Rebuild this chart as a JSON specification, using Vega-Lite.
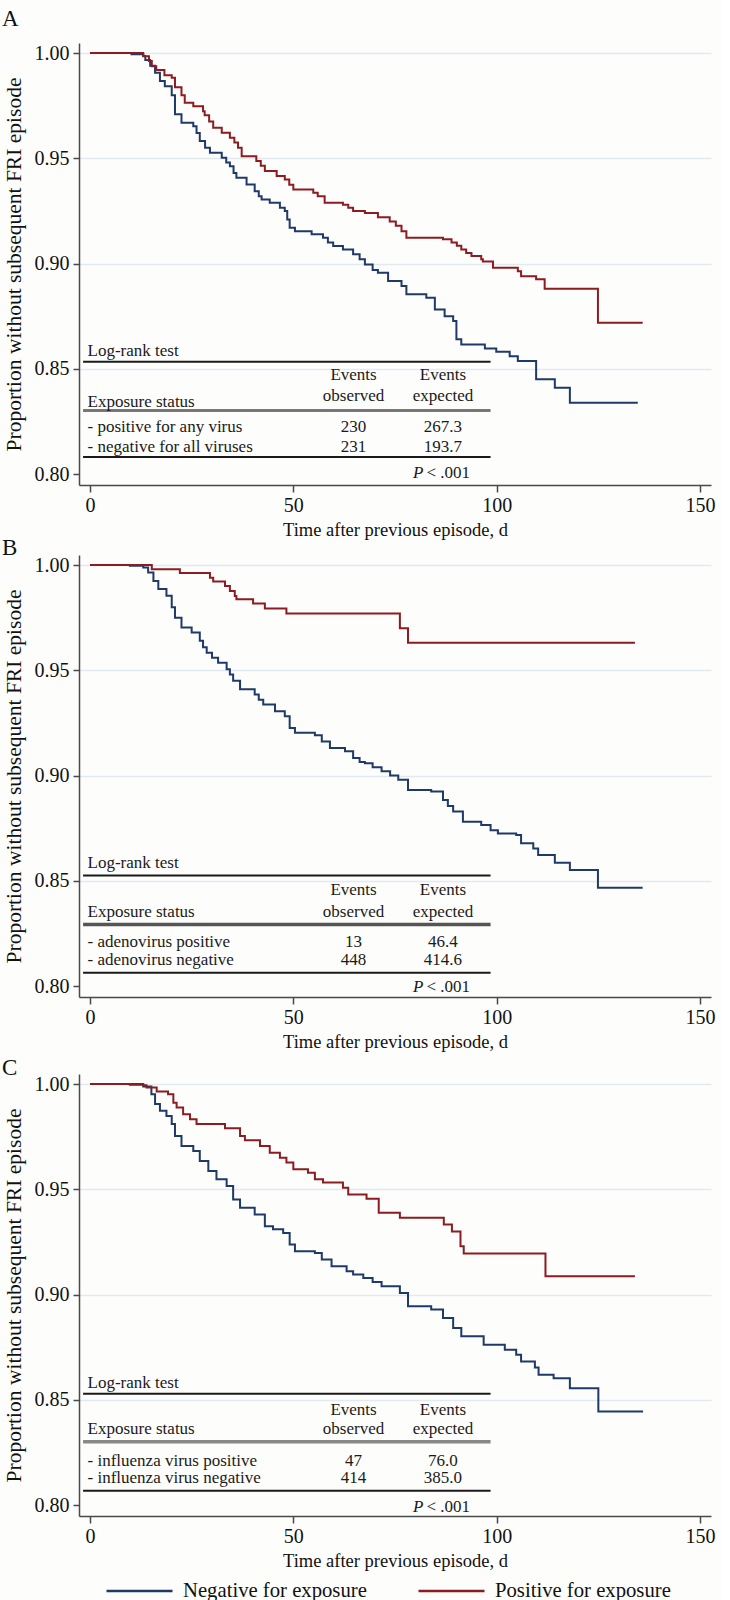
{
  "$schema": "https://vega.github.io/schema/vega-lite/v6.json",
  "background": "#fdfdfb",
  "padding": {"left": 2, "top": 8, "right": 5, "bottom": 2},
  "bounds": "flush",
  "spacing": 70,
  "resolve": {"scale": {"color": "shared"}, "legend": {"color": "shared"}},
  "config": {
    "font": "Liberation Serif",
    "view": {"stroke": null},
    "axis": {"domainColor": "#4a4a4a", "domainWidth": 1.5, "tickColor": "#4a4a4a", "tickWidth": 1.5, "labelColor": "#111111", "titleColor": "#111111", "titleFontWeight": "normal", "labelFont": "Liberation Serif", "titleFont": "Liberation Serif"},
    "axisX": {"grid": false, "tickSize": 7, "labelFontSize": 20, "labelPadding": 3, "titleFontSize": 18.5, "titlePadding": 5},
    "axisY": {"grid": true, "gridColor": "#e2eaf1", "gridWidth": 1.5, "tickSize": 6, "labelFontSize": 20, "labelPadding": 4, "titleFontSize": 21.5, "titlePadding": 9},
    "title": {"font": "Liberation Serif", "fontWeight": "normal", "fontSize": 23, "color": "#111111", "anchor": "start", "frame": "group"},
    "text": {"font": "Liberation Serif", "fontSize": 17, "color": "#1a1a1a"}
  },
  "datasets": {
    "km": [
      {"p":"A","g":"Negative for exposure","t":0,"s":1},
      {"p":"A","g":"Negative for exposure","t":10.2,"s":0.9994},
      {"p":"A","g":"Negative for exposure","t":13.1,"s":0.9986},
      {"p":"A","g":"Negative for exposure","t":13.6,"s":0.9967},
      {"p":"A","g":"Negative for exposure","t":14.8,"s":0.994},
      {"p":"A","g":"Negative for exposure","t":16,"s":0.9907},
      {"p":"A","g":"Negative for exposure","t":17.2,"s":0.9867},
      {"p":"A","g":"Negative for exposure","t":18.4,"s":0.9843},
      {"p":"A","g":"Negative for exposure","t":20.1,"s":0.98},
      {"p":"A","g":"Negative for exposure","t":20.9,"s":0.9709},
      {"p":"A","g":"Negative for exposure","t":22.5,"s":0.9669},
      {"p":"A","g":"Negative for exposure","t":25.4,"s":0.9653},
      {"p":"A","g":"Negative for exposure","t":26.2,"s":0.962},
      {"p":"A","g":"Negative for exposure","t":27,"s":0.9582},
      {"p":"A","g":"Negative for exposure","t":28.3,"s":0.955},
      {"p":"A","g":"Negative for exposure","t":29.5,"s":0.9526},
      {"p":"A","g":"Negative for exposure","t":32.4,"s":0.9503},
      {"p":"A","g":"Negative for exposure","t":33.5,"s":0.948},
      {"p":"A","g":"Negative for exposure","t":34.4,"s":0.9463},
      {"p":"A","g":"Negative for exposure","t":35.3,"s":0.943},
      {"p":"A","g":"Negative for exposure","t":36,"s":0.9408},
      {"p":"A","g":"Negative for exposure","t":38.5,"s":0.9376},
      {"p":"A","g":"Negative for exposure","t":40.5,"s":0.9344},
      {"p":"A","g":"Negative for exposure","t":41.5,"s":0.932},
      {"p":"A","g":"Negative for exposure","t":42.2,"s":0.9305},
      {"p":"A","g":"Negative for exposure","t":44.2,"s":0.9289},
      {"p":"A","g":"Negative for exposure","t":46.7,"s":0.9265},
      {"p":"A","g":"Negative for exposure","t":47.9,"s":0.925},
      {"p":"A","g":"Negative for exposure","t":48.5,"s":0.921},
      {"p":"A","g":"Negative for exposure","t":49.1,"s":0.917},
      {"p":"A","g":"Negative for exposure","t":50.4,"s":0.9154},
      {"p":"A","g":"Negative for exposure","t":54.5,"s":0.9139},
      {"p":"A","g":"Negative for exposure","t":57.3,"s":0.9123},
      {"p":"A","g":"Negative for exposure","t":58.5,"s":0.91},
      {"p":"A","g":"Negative for exposure","t":59.8,"s":0.9083},
      {"p":"A","g":"Negative for exposure","t":62.2,"s":0.9067},
      {"p":"A","g":"Negative for exposure","t":64.7,"s":0.9044},
      {"p":"A","g":"Negative for exposure","t":66.3,"s":0.902},
      {"p":"A","g":"Negative for exposure","t":67.6,"s":0.8996},
      {"p":"A","g":"Negative for exposure","t":69.5,"s":0.897},
      {"p":"A","g":"Negative for exposure","t":70.8,"s":0.8956},
      {"p":"A","g":"Negative for exposure","t":73.3,"s":0.8917},
      {"p":"A","g":"Negative for exposure","t":76.6,"s":0.8893},
      {"p":"A","g":"Negative for exposure","t":77.8,"s":0.8854},
      {"p":"A","g":"Negative for exposure","t":82.7,"s":0.8838},
      {"p":"A","g":"Negative for exposure","t":84.8,"s":0.8782},
      {"p":"A","g":"Negative for exposure","t":87.2,"s":0.875},
      {"p":"A","g":"Negative for exposure","t":89.3,"s":0.8727},
      {"p":"A","g":"Negative for exposure","t":90.1,"s":0.864},
      {"p":"A","g":"Negative for exposure","t":91.3,"s":0.8616},
      {"p":"A","g":"Negative for exposure","t":97.1,"s":0.8597},
      {"p":"A","g":"Negative for exposure","t":99.9,"s":0.8581},
      {"p":"A","g":"Negative for exposure","t":103.2,"s":0.856},
      {"p":"A","g":"Negative for exposure","t":105.2,"s":0.8537},
      {"p":"A","g":"Negative for exposure","t":109.7,"s":0.845},
      {"p":"A","g":"Negative for exposure","t":114.3,"s":0.841},
      {"p":"A","g":"Negative for exposure","t":118,"s":0.8339},
      {"p":"A","g":"Negative for exposure","t":134.7,"s":0.8339},
      {"p":"A","g":"Positive for exposure","t":0,"s":1},
      {"p":"A","g":"Positive for exposure","t":13.1,"s":0.9985},
      {"p":"A","g":"Positive for exposure","t":14.5,"s":0.9962},
      {"p":"A","g":"Positive for exposure","t":15.2,"s":0.9938},
      {"p":"A","g":"Positive for exposure","t":16.3,"s":0.992},
      {"p":"A","g":"Positive for exposure","t":18.3,"s":0.9895},
      {"p":"A","g":"Positive for exposure","t":20.1,"s":0.9883},
      {"p":"A","g":"Positive for exposure","t":20.9,"s":0.9838},
      {"p":"A","g":"Positive for exposure","t":22.5,"s":0.98},
      {"p":"A","g":"Positive for exposure","t":23.3,"s":0.9764},
      {"p":"A","g":"Positive for exposure","t":25.4,"s":0.9748},
      {"p":"A","g":"Positive for exposure","t":27.8,"s":0.9724},
      {"p":"A","g":"Positive for exposure","t":28.2,"s":0.9705},
      {"p":"A","g":"Positive for exposure","t":29.3,"s":0.9675},
      {"p":"A","g":"Positive for exposure","t":30.3,"s":0.9645},
      {"p":"A","g":"Positive for exposure","t":32.4,"s":0.9621},
      {"p":"A","g":"Positive for exposure","t":34.4,"s":0.9598},
      {"p":"A","g":"Positive for exposure","t":35.5,"s":0.9575},
      {"p":"A","g":"Positive for exposure","t":36.4,"s":0.955},
      {"p":"A","g":"Positive for exposure","t":37.3,"s":0.951},
      {"p":"A","g":"Positive for exposure","t":40.9,"s":0.9487},
      {"p":"A","g":"Positive for exposure","t":42,"s":0.9465},
      {"p":"A","g":"Positive for exposure","t":43,"s":0.944},
      {"p":"A","g":"Positive for exposure","t":45.9,"s":0.9416},
      {"p":"A","g":"Positive for exposure","t":47.9,"s":0.94},
      {"p":"A","g":"Positive for exposure","t":49,"s":0.9375},
      {"p":"A","g":"Positive for exposure","t":50,"s":0.9352},
      {"p":"A","g":"Positive for exposure","t":54.9,"s":0.9336},
      {"p":"A","g":"Positive for exposure","t":56,"s":0.932},
      {"p":"A","g":"Positive for exposure","t":57.7,"s":0.9289},
      {"p":"A","g":"Positive for exposure","t":62.2,"s":0.928},
      {"p":"A","g":"Positive for exposure","t":63.5,"s":0.9265},
      {"p":"A","g":"Positive for exposure","t":64.7,"s":0.925},
      {"p":"A","g":"Positive for exposure","t":67.6,"s":0.924},
      {"p":"A","g":"Positive for exposure","t":70.8,"s":0.922},
      {"p":"A","g":"Positive for exposure","t":73.7,"s":0.92},
      {"p":"A","g":"Positive for exposure","t":75.2,"s":0.918},
      {"p":"A","g":"Positive for exposure","t":76.6,"s":0.9154},
      {"p":"A","g":"Positive for exposure","t":77.8,"s":0.9123},
      {"p":"A","g":"Positive for exposure","t":86.8,"s":0.9115},
      {"p":"A","g":"Positive for exposure","t":88.9,"s":0.91},
      {"p":"A","g":"Positive for exposure","t":90.2,"s":0.9085},
      {"p":"A","g":"Positive for exposure","t":91.3,"s":0.9067},
      {"p":"A","g":"Positive for exposure","t":92.5,"s":0.905},
      {"p":"A","g":"Positive for exposure","t":93.8,"s":0.9036},
      {"p":"A","g":"Positive for exposure","t":96.2,"s":0.902},
      {"p":"A","g":"Positive for exposure","t":96.6,"s":0.901},
      {"p":"A","g":"Positive for exposure","t":99.1,"s":0.898},
      {"p":"A","g":"Positive for exposure","t":105.2,"s":0.8964},
      {"p":"A","g":"Positive for exposure","t":106,"s":0.894},
      {"p":"A","g":"Positive for exposure","t":109.7,"s":0.8925},
      {"p":"A","g":"Positive for exposure","t":111.8,"s":0.888},
      {"p":"A","g":"Positive for exposure","t":124.9,"s":0.8719},
      {"p":"A","g":"Positive for exposure","t":135.9,"s":0.8719},
      {"p":"B","g":"Negative for exposure","t":0,"s":1},
      {"p":"B","g":"Negative for exposure","t":9.8,"s":0.9997},
      {"p":"B","g":"Negative for exposure","t":13.1,"s":0.9989},
      {"p":"B","g":"Negative for exposure","t":14.3,"s":0.9965},
      {"p":"B","g":"Negative for exposure","t":15.6,"s":0.9925},
      {"p":"B","g":"Negative for exposure","t":16.8,"s":0.9886},
      {"p":"B","g":"Negative for exposure","t":18.8,"s":0.9854},
      {"p":"B","g":"Negative for exposure","t":20.1,"s":0.98},
      {"p":"B","g":"Negative for exposure","t":20.9,"s":0.975},
      {"p":"B","g":"Negative for exposure","t":22.5,"s":0.9703},
      {"p":"B","g":"Negative for exposure","t":25,"s":0.968},
      {"p":"B","g":"Negative for exposure","t":27,"s":0.964},
      {"p":"B","g":"Negative for exposure","t":27.8,"s":0.961},
      {"p":"B","g":"Negative for exposure","t":28.7,"s":0.9584},
      {"p":"B","g":"Negative for exposure","t":30,"s":0.956},
      {"p":"B","g":"Negative for exposure","t":31.5,"s":0.9536},
      {"p":"B","g":"Negative for exposure","t":33.6,"s":0.9505},
      {"p":"B","g":"Negative for exposure","t":34.4,"s":0.948},
      {"p":"B","g":"Negative for exposure","t":35.2,"s":0.945},
      {"p":"B","g":"Negative for exposure","t":36.9,"s":0.941},
      {"p":"B","g":"Negative for exposure","t":40.5,"s":0.9385},
      {"p":"B","g":"Negative for exposure","t":41.5,"s":0.936},
      {"p":"B","g":"Negative for exposure","t":42.6,"s":0.9338},
      {"p":"B","g":"Negative for exposure","t":45.5,"s":0.9306},
      {"p":"B","g":"Negative for exposure","t":47.9,"s":0.9282},
      {"p":"B","g":"Negative for exposure","t":49.1,"s":0.9226},
      {"p":"B","g":"Negative for exposure","t":50.4,"s":0.9203},
      {"p":"B","g":"Negative for exposure","t":55.3,"s":0.9192},
      {"p":"B","g":"Negative for exposure","t":57,"s":0.9162},
      {"p":"B","g":"Negative for exposure","t":59,"s":0.9131},
      {"p":"B","g":"Negative for exposure","t":62.7,"s":0.9115},
      {"p":"B","g":"Negative for exposure","t":64.7,"s":0.9083},
      {"p":"B","g":"Negative for exposure","t":66.3,"s":0.9064},
      {"p":"B","g":"Negative for exposure","t":67.6,"s":0.9059},
      {"p":"B","g":"Negative for exposure","t":69.5,"s":0.904},
      {"p":"B","g":"Negative for exposure","t":71.7,"s":0.902},
      {"p":"B","g":"Negative for exposure","t":73.8,"s":0.9},
      {"p":"B","g":"Negative for exposure","t":75.8,"s":0.898},
      {"p":"B","g":"Negative for exposure","t":78.2,"s":0.8932},
      {"p":"B","g":"Negative for exposure","t":83.9,"s":0.8924},
      {"p":"B","g":"Negative for exposure","t":86.8,"s":0.8884},
      {"p":"B","g":"Negative for exposure","t":88,"s":0.8855},
      {"p":"B","g":"Negative for exposure","t":89.3,"s":0.8829},
      {"p":"B","g":"Negative for exposure","t":91.7,"s":0.8781},
      {"p":"B","g":"Negative for exposure","t":96.2,"s":0.8765},
      {"p":"B","g":"Negative for exposure","t":98.5,"s":0.874},
      {"p":"B","g":"Negative for exposure","t":100.3,"s":0.8725},
      {"p":"B","g":"Negative for exposure","t":104.8,"s":0.8718},
      {"p":"B","g":"Negative for exposure","t":106,"s":0.8678},
      {"p":"B","g":"Negative for exposure","t":109,"s":0.8654},
      {"p":"B","g":"Negative for exposure","t":110.2,"s":0.8623},
      {"p":"B","g":"Negative for exposure","t":114.3,"s":0.8586},
      {"p":"B","g":"Negative for exposure","t":118,"s":0.8551},
      {"p":"B","g":"Negative for exposure","t":124.9,"s":0.8467},
      {"p":"B","g":"Negative for exposure","t":135.9,"s":0.8467},
      {"p":"B","g":"Positive for exposure","t":0,"s":1},
      {"p":"B","g":"Positive for exposure","t":15.2,"s":0.998},
      {"p":"B","g":"Positive for exposure","t":22.1,"s":0.9963},
      {"p":"B","g":"Positive for exposure","t":29.5,"s":0.994},
      {"p":"B","g":"Positive for exposure","t":30.3,"s":0.9922},
      {"p":"B","g":"Positive for exposure","t":33.2,"s":0.9901},
      {"p":"B","g":"Positive for exposure","t":34.4,"s":0.9877},
      {"p":"B","g":"Positive for exposure","t":35.6,"s":0.9853},
      {"p":"B","g":"Positive for exposure","t":36,"s":0.9838},
      {"p":"B","g":"Positive for exposure","t":40.1,"s":0.9818},
      {"p":"B","g":"Positive for exposure","t":43,"s":0.9794},
      {"p":"B","g":"Positive for exposure","t":48.3,"s":0.977},
      {"p":"B","g":"Positive for exposure","t":76.2,"s":0.97},
      {"p":"B","g":"Positive for exposure","t":78.2,"s":0.9631},
      {"p":"B","g":"Positive for exposure","t":134,"s":0.9631},
      {"p":"C","g":"Negative for exposure","t":0,"s":1},
      {"p":"C","g":"Negative for exposure","t":9.8,"s":0.9997},
      {"p":"C","g":"Negative for exposure","t":13.1,"s":0.9989},
      {"p":"C","g":"Negative for exposure","t":15.1,"s":0.9952},
      {"p":"C","g":"Negative for exposure","t":16,"s":0.9905},
      {"p":"C","g":"Negative for exposure","t":17.2,"s":0.9873},
      {"p":"C","g":"Negative for exposure","t":18.8,"s":0.9849},
      {"p":"C","g":"Negative for exposure","t":20.1,"s":0.981},
      {"p":"C","g":"Negative for exposure","t":20.9,"s":0.9754},
      {"p":"C","g":"Negative for exposure","t":22.5,"s":0.9706},
      {"p":"C","g":"Negative for exposure","t":25.4,"s":0.9682},
      {"p":"C","g":"Negative for exposure","t":27,"s":0.9635},
      {"p":"C","g":"Negative for exposure","t":29.1,"s":0.9587},
      {"p":"C","g":"Negative for exposure","t":31.1,"s":0.9548},
      {"p":"C","g":"Negative for exposure","t":33.6,"s":0.9516},
      {"p":"C","g":"Negative for exposure","t":35.2,"s":0.9452},
      {"p":"C","g":"Negative for exposure","t":36.9,"s":0.9413},
      {"p":"C","g":"Negative for exposure","t":40.5,"s":0.9381},
      {"p":"C","g":"Negative for exposure","t":43,"s":0.9325},
      {"p":"C","g":"Negative for exposure","t":45,"s":0.931},
      {"p":"C","g":"Negative for exposure","t":47.5,"s":0.9293},
      {"p":"C","g":"Negative for exposure","t":49.1,"s":0.9238},
      {"p":"C","g":"Negative for exposure","t":50.4,"s":0.9206},
      {"p":"C","g":"Negative for exposure","t":55.3,"s":0.9198},
      {"p":"C","g":"Negative for exposure","t":57,"s":0.9167},
      {"p":"C","g":"Negative for exposure","t":59.4,"s":0.9135},
      {"p":"C","g":"Negative for exposure","t":63.1,"s":0.9111},
      {"p":"C","g":"Negative for exposure","t":64.7,"s":0.9095},
      {"p":"C","g":"Negative for exposure","t":67.2,"s":0.9079},
      {"p":"C","g":"Negative for exposure","t":69.5,"s":0.906},
      {"p":"C","g":"Negative for exposure","t":71.7,"s":0.904},
      {"p":"C","g":"Negative for exposure","t":76.2,"s":0.9008},
      {"p":"C","g":"Negative for exposure","t":78.2,"s":0.8944},
      {"p":"C","g":"Negative for exposure","t":83.9,"s":0.8929},
      {"p":"C","g":"Negative for exposure","t":86.8,"s":0.8889},
      {"p":"C","g":"Negative for exposure","t":89.3,"s":0.8841},
      {"p":"C","g":"Negative for exposure","t":91.3,"s":0.8802},
      {"p":"C","g":"Negative for exposure","t":96.8,"s":0.8762},
      {"p":"C","g":"Negative for exposure","t":102,"s":0.8738},
      {"p":"C","g":"Negative for exposure","t":104.8,"s":0.8714},
      {"p":"C","g":"Negative for exposure","t":106,"s":0.8682},
      {"p":"C","g":"Negative for exposure","t":109.4,"s":0.8653},
      {"p":"C","g":"Negative for exposure","t":110.3,"s":0.8619},
      {"p":"C","g":"Negative for exposure","t":114,"s":0.8603},
      {"p":"C","g":"Negative for exposure","t":118,"s":0.8555},
      {"p":"C","g":"Negative for exposure","t":125,"s":0.8444},
      {"p":"C","g":"Negative for exposure","t":136,"s":0.8444},
      {"p":"C","g":"Positive for exposure","t":0,"s":1},
      {"p":"C","g":"Positive for exposure","t":13.1,"s":0.9995},
      {"p":"C","g":"Positive for exposure","t":13.9,"s":0.9984},
      {"p":"C","g":"Positive for exposure","t":16.4,"s":0.9965},
      {"p":"C","g":"Positive for exposure","t":19.2,"s":0.9952},
      {"p":"C","g":"Positive for exposure","t":20.5,"s":0.9912},
      {"p":"C","g":"Positive for exposure","t":21.3,"s":0.9889},
      {"p":"C","g":"Positive for exposure","t":22.9,"s":0.9857},
      {"p":"C","g":"Positive for exposure","t":24.6,"s":0.9833},
      {"p":"C","g":"Positive for exposure","t":26.2,"s":0.981},
      {"p":"C","g":"Positive for exposure","t":33.2,"s":0.979},
      {"p":"C","g":"Positive for exposure","t":36.9,"s":0.9754},
      {"p":"C","g":"Positive for exposure","t":38.1,"s":0.9733},
      {"p":"C","g":"Positive for exposure","t":41.8,"s":0.9706},
      {"p":"C","g":"Positive for exposure","t":44.2,"s":0.9674},
      {"p":"C","g":"Positive for exposure","t":46.7,"s":0.965},
      {"p":"C","g":"Positive for exposure","t":48.3,"s":0.9627},
      {"p":"C","g":"Positive for exposure","t":50,"s":0.9595},
      {"p":"C","g":"Positive for exposure","t":53.6,"s":0.9579},
      {"p":"C","g":"Positive for exposure","t":55.3,"s":0.9548},
      {"p":"C","g":"Positive for exposure","t":57.3,"s":0.9532},
      {"p":"C","g":"Positive for exposure","t":62.2,"s":0.9508},
      {"p":"C","g":"Positive for exposure","t":63.5,"s":0.9476},
      {"p":"C","g":"Positive for exposure","t":68,"s":0.9455},
      {"p":"C","g":"Positive for exposure","t":71,"s":0.9389},
      {"p":"C","g":"Positive for exposure","t":76.2,"s":0.9365},
      {"p":"C","g":"Positive for exposure","t":87,"s":0.9333},
      {"p":"C","g":"Positive for exposure","t":89,"s":0.93},
      {"p":"C","g":"Positive for exposure","t":91.1,"s":0.923},
      {"p":"C","g":"Positive for exposure","t":91.9,"s":0.9195},
      {"p":"C","g":"Positive for exposure","t":112,"s":0.9087},
      {"p":"C","g":"Positive for exposure","t":134,"s":0.9087}
    ],
    "tables": [
      {"p":"A","row":1,"status":"- positive for any virus","observed":230,"expected":267.3},
      {"p":"A","row":2,"status":"- negative for all viruses","observed":231,"expected":193.7},
      {"p":"B","row":1,"status":"- adenovirus positive","observed":13,"expected":46.4},
      {"p":"B","row":2,"status":"- adenovirus negative","observed":448,"expected":414.6},
      {"p":"C","row":1,"status":"- influenza virus positive","observed":47,"expected":76.0},
      {"p":"C","row":2,"status":"- influenza virus negative","observed":414,"expected":385.0}
    ]
  },
  "vconcat": [
    {
      "width": 632, "height": 442,
      "title": {"text": "A", "dx": -77, "offset": -6, "baseline": "alphabetic"},
      "layer": [
        {"data": {"name": "km"}, "transform": [{"filter": "datum.p === 'A'"}],
         "mark": {"type": "line", "interpolate": "step-after", "strokeWidth": 2},
         "encoding": {
           "x": {"field": "t", "type": "quantitative", "scale": {"domain": [-2.7, 152.7], "nice": false, "zero": false}, "axis": {"values": [0, 50, 100, 150], "title": "Time after previous episode, d"}},
           "y": {"field": "s", "type": "quantitative", "scale": {"domain": [0.7948, 1.0048], "nice": false, "zero": false}, "axis": {"values": [0.8, 0.85, 0.9, 0.95, 1.0], "format": ".2f", "title": "Proportion without subsequent FRI episode", "gridOpacity": {"condition": {"test": "datum.value < 0.81", "value": 0}, "value": 1}}},
           "color": {"field": "g", "type": "nominal", "scale": {"domain": ["Negative for exposure", "Positive for exposure"], "range": ["#1f3a68", "#8c1c22"]}, "legend": {"orient": "none", "legendX": 26, "legendY": 1513, "direction": "horizontal", "title": null, "symbolType": "stroke", "symbolSize": 4356, "symbolStrokeWidth": 2.5, "labelFontSize": 20.7, "labelFont": "Liberation Serif", "labelColor": "#111111", "labelOffset": 9, "columnPadding": 46, "labelLimit": 400, "padding": 0}}
         }},
        {"data": {"values": [{}]}, "mark": {"type": "rule", "color": "#1a1a1a", "strokeWidth": 2}, "encoding": {"x": {"datum": -1.7}, "x2": {"datum": 98.5}, "y": {"datum": 0.8533}}},
        {"data": {"values": [{}]}, "mark": {"type": "rule", "color": "#777777", "strokeWidth": 3}, "encoding": {"x": {"datum": -1.7}, "x2": {"datum": 98.5}, "y": {"datum": 0.8302}}},
        {"data": {"values": [{}]}, "mark": {"type": "rule", "color": "#1a1a1a", "strokeWidth": 2}, "encoding": {"x": {"datum": -1.7}, "x2": {"datum": 98.5}, "y": {"datum": 0.8081}}},
        {"data": {"values": [{}]}, "mark": {"type": "text", "align": "left", "baseline": "middle"}, "encoding": {"x": {"datum": -0.6}, "y": {"datum": 0.8584}, "text": {"value": "Log-rank test"}}},
        {"data": {"values": [{}]}, "mark": {"type": "text", "align": "left", "baseline": "middle"}, "encoding": {"x": {"datum": -0.6}, "y": {"datum": 0.8342}, "text": {"value": "Exposure status"}}},
        {"data": {"values": [{}]}, "mark": {"type": "text", "align": "center", "baseline": "middle"}, "encoding": {"x": {"datum": 64.8}, "y": {"datum": 0.8469}, "text": {"value": "Events"}}},
        {"data": {"values": [{}]}, "mark": {"type": "text", "align": "center", "baseline": "middle"}, "encoding": {"x": {"datum": 86.8}, "y": {"datum": 0.8469}, "text": {"value": "Events"}}},
        {"data": {"values": [{}]}, "mark": {"type": "text", "align": "center", "baseline": "middle"}, "encoding": {"x": {"datum": 64.8}, "y": {"datum": 0.8371}, "text": {"value": "observed"}}},
        {"data": {"values": [{}]}, "mark": {"type": "text", "align": "center", "baseline": "middle"}, "encoding": {"x": {"datum": 86.8}, "y": {"datum": 0.8371}, "text": {"value": "expected"}}},
        {"data": {"name": "tables"}, "transform": [{"filter": "datum.p === 'A' && datum.row === 1"}], "mark": {"type": "text", "align": "left", "baseline": "middle"}, "encoding": {"x": {"datum": -0.6}, "y": {"datum": 0.8223}, "text": {"field": "status"}}},
        {"data": {"name": "tables"}, "transform": [{"filter": "datum.p === 'A' && datum.row === 1"}], "mark": {"type": "text", "align": "center", "baseline": "middle"}, "encoding": {"x": {"datum": 64.8}, "y": {"datum": 0.8223}, "text": {"field": "observed"}}},
        {"data": {"name": "tables"}, "transform": [{"filter": "datum.p === 'A' && datum.row === 1"}], "mark": {"type": "text", "align": "center", "baseline": "middle"}, "encoding": {"x": {"datum": 86.8}, "y": {"datum": 0.8223}, "text": {"field": "expected", "format": ".1f"}}},
        {"data": {"name": "tables"}, "transform": [{"filter": "datum.p === 'A' && datum.row === 2"}], "mark": {"type": "text", "align": "left", "baseline": "middle"}, "encoding": {"x": {"datum": -0.6}, "y": {"datum": 0.8128}, "text": {"field": "status"}}},
        {"data": {"name": "tables"}, "transform": [{"filter": "datum.p === 'A' && datum.row === 2"}], "mark": {"type": "text", "align": "center", "baseline": "middle"}, "encoding": {"x": {"datum": 64.8}, "y": {"datum": 0.8128}, "text": {"field": "observed"}}},
        {"data": {"name": "tables"}, "transform": [{"filter": "datum.p === 'A' && datum.row === 2"}], "mark": {"type": "text", "align": "center", "baseline": "middle"}, "encoding": {"x": {"datum": 86.8}, "y": {"datum": 0.8128}, "text": {"field": "expected", "format": ".1f"}}},
        {"data": {"values": [{}]}, "mark": {"type": "text", "align": "right", "baseline": "middle", "fontStyle": "italic"}, "encoding": {"x": {"datum": 82}, "y": {"datum": 0.8006}, "text": {"value": "P"}}},
        {"data": {"values": [{}]}, "mark": {"type": "text", "align": "left", "baseline": "middle", "dx": 3}, "encoding": {"x": {"datum": 82}, "y": {"datum": 0.8006}, "text": {"value": "< .001"}}}
      ]
    },
    {
      "bounds": "flush",
      "spacing": 77,
      "resolve": {"scale": {"color": "shared"}, "legend": {"color": "shared"}},
      "vconcat": [
        {
          "width": 632, "height": 442,
          "title": {"text": "B", "dx": -77, "offset": -23, "baseline": "alphabetic"},
          "layer": [
            {"data": {"name": "km"}, "transform": [{"filter": "datum.p === 'B'"}],
             "mark": {"type": "line", "interpolate": "step-after", "strokeWidth": 2},
             "encoding": {
               "x": {"field": "t", "type": "quantitative", "scale": {"domain": [-2.7, 152.7], "nice": false, "zero": false}, "axis": {"values": [0, 50, 100, 150], "title": "Time after previous episode, d"}},
               "y": {"field": "s", "type": "quantitative", "scale": {"domain": [0.7948, 1.0048], "nice": false, "zero": false}, "axis": {"values": [0.8, 0.85, 0.9, 0.95, 1.0], "format": ".2f", "title": "Proportion without subsequent FRI episode", "gridOpacity": {"condition": {"test": "datum.value < 0.81", "value": 0}, "value": 1}}},
               "color": {"field": "g", "type": "nominal", "scale": {"domain": ["Negative for exposure", "Positive for exposure"], "range": ["#1f3a68", "#8c1c22"]}, "legend": {"orient": "none", "legendX": 26, "legendY": 1513, "direction": "horizontal", "title": null, "symbolType": "stroke", "symbolSize": 4356, "symbolStrokeWidth": 2.5, "labelFontSize": 20.7, "labelFont": "Liberation Serif", "labelColor": "#111111", "labelOffset": 9, "columnPadding": 46, "labelLimit": 400, "padding": 0}}
             }},
            {"data": {"values": [{}]}, "mark": {"type": "rule", "color": "#1a1a1a", "strokeWidth": 2}, "encoding": {"x": {"datum": -1.7}, "x2": {"datum": 98.5}, "y": {"datum": 0.8525}}},
            {"data": {"values": [{}]}, "mark": {"type": "rule", "color": "#555555", "strokeWidth": 3.5}, "encoding": {"x": {"datum": -1.7}, "x2": {"datum": 98.5}, "y": {"datum": 0.8293}}},
            {"data": {"values": [{}]}, "mark": {"type": "rule", "color": "#1a1a1a", "strokeWidth": 2}, "encoding": {"x": {"datum": -1.7}, "x2": {"datum": 98.5}, "y": {"datum": 0.8063}}},
            {"data": {"values": [{}]}, "mark": {"type": "text", "align": "left", "baseline": "middle"}, "encoding": {"x": {"datum": -0.6}, "y": {"datum": 0.8584}, "text": {"value": "Log-rank test"}}},
            {"data": {"values": [{}]}, "mark": {"type": "text", "align": "left", "baseline": "middle"}, "encoding": {"x": {"datum": -0.6}, "y": {"datum": 0.8354}, "text": {"value": "Exposure status"}}},
            {"data": {"values": [{}]}, "mark": {"type": "text", "align": "center", "baseline": "middle"}, "encoding": {"x": {"datum": 64.8}, "y": {"datum": 0.8457}, "text": {"value": "Events"}}},
            {"data": {"values": [{}]}, "mark": {"type": "text", "align": "center", "baseline": "middle"}, "encoding": {"x": {"datum": 86.8}, "y": {"datum": 0.8457}, "text": {"value": "Events"}}},
            {"data": {"values": [{}]}, "mark": {"type": "text", "align": "center", "baseline": "middle"}, "encoding": {"x": {"datum": 64.8}, "y": {"datum": 0.8354}, "text": {"value": "observed"}}},
            {"data": {"values": [{}]}, "mark": {"type": "text", "align": "center", "baseline": "middle"}, "encoding": {"x": {"datum": 86.8}, "y": {"datum": 0.8354}, "text": {"value": "expected"}}},
            {"data": {"name": "tables"}, "transform": [{"filter": "datum.p === 'B' && datum.row === 1"}], "mark": {"type": "text", "align": "left", "baseline": "middle"}, "encoding": {"x": {"datum": -0.6}, "y": {"datum": 0.8211}, "text": {"field": "status"}}},
            {"data": {"name": "tables"}, "transform": [{"filter": "datum.p === 'B' && datum.row === 1"}], "mark": {"type": "text", "align": "center", "baseline": "middle"}, "encoding": {"x": {"datum": 64.8}, "y": {"datum": 0.8211}, "text": {"field": "observed"}}},
            {"data": {"name": "tables"}, "transform": [{"filter": "datum.p === 'B' && datum.row === 1"}], "mark": {"type": "text", "align": "center", "baseline": "middle"}, "encoding": {"x": {"datum": 86.8}, "y": {"datum": 0.8211}, "text": {"field": "expected", "format": ".1f"}}},
            {"data": {"name": "tables"}, "transform": [{"filter": "datum.p === 'B' && datum.row === 2"}], "mark": {"type": "text", "align": "left", "baseline": "middle"}, "encoding": {"x": {"datum": -0.6}, "y": {"datum": 0.8124}, "text": {"field": "status"}}},
            {"data": {"name": "tables"}, "transform": [{"filter": "datum.p === 'B' && datum.row === 2"}], "mark": {"type": "text", "align": "center", "baseline": "middle"}, "encoding": {"x": {"datum": 64.8}, "y": {"datum": 0.8124}, "text": {"field": "observed"}}},
            {"data": {"name": "tables"}, "transform": [{"filter": "datum.p === 'B' && datum.row === 2"}], "mark": {"type": "text", "align": "center", "baseline": "middle"}, "encoding": {"x": {"datum": 86.8}, "y": {"datum": 0.8124}, "text": {"field": "expected", "format": ".1f"}}},
            {"data": {"values": [{}]}, "mark": {"type": "text", "align": "right", "baseline": "middle", "fontStyle": "italic"}, "encoding": {"x": {"datum": 82}, "y": {"datum": 0.7997}, "text": {"value": "P"}}},
            {"data": {"values": [{}]}, "mark": {"type": "text", "align": "left", "baseline": "middle", "dx": 3}, "encoding": {"x": {"datum": 82}, "y": {"datum": 0.7997}, "text": {"value": "< .001"}}}
          ]
        },
        {
          "width": 632, "height": 442,
          "title": {"text": "C", "dx": -77, "offset": -24, "baseline": "alphabetic"},
          "layer": [
            {"data": {"name": "km"}, "transform": [{"filter": "datum.p === 'C'"}],
             "mark": {"type": "line", "interpolate": "step-after", "strokeWidth": 2},
             "encoding": {
               "x": {"field": "t", "type": "quantitative", "scale": {"domain": [-2.7, 152.7], "nice": false, "zero": false}, "axis": {"values": [0, 50, 100, 150], "title": "Time after previous episode, d"}},
               "y": {"field": "s", "type": "quantitative", "scale": {"domain": [0.7948, 1.0048], "nice": false, "zero": false}, "axis": {"values": [0.8, 0.85, 0.9, 0.95, 1.0], "format": ".2f", "title": "Proportion without subsequent FRI episode", "gridOpacity": {"condition": {"test": "datum.value < 0.81", "value": 0}, "value": 1}}},
               "color": {"field": "g", "type": "nominal", "scale": {"domain": ["Negative for exposure", "Positive for exposure"], "range": ["#1f3a68", "#8c1c22"]}, "legend": {"orient": "none", "legendX": 26, "legendY": 1513, "direction": "horizontal", "title": null, "symbolType": "stroke", "symbolSize": 4356, "symbolStrokeWidth": 2.5, "labelFontSize": 20.7, "labelFont": "Liberation Serif", "labelColor": "#111111", "labelOffset": 9, "columnPadding": 46, "labelLimit": 400, "padding": 0}}
             }},
            {"data": {"values": [{}]}, "mark": {"type": "rule", "color": "#1a1a1a", "strokeWidth": 2}, "encoding": {"x": {"datum": -1.7}, "x2": {"datum": 98.5}, "y": {"datum": 0.8529}}},
            {"data": {"values": [{}]}, "mark": {"type": "rule", "color": "#888888", "strokeWidth": 3.5}, "encoding": {"x": {"datum": -1.7}, "x2": {"datum": 98.5}, "y": {"datum": 0.8301}}},
            {"data": {"values": [{}]}, "mark": {"type": "rule", "color": "#1a1a1a", "strokeWidth": 2}, "encoding": {"x": {"datum": -1.7}, "x2": {"datum": 98.5}, "y": {"datum": 0.8068}}},
            {"data": {"values": [{}]}, "mark": {"type": "text", "align": "left", "baseline": "middle"}, "encoding": {"x": {"datum": -0.6}, "y": {"datum": 0.8579}, "text": {"value": "Log-rank test"}}},
            {"data": {"values": [{}]}, "mark": {"type": "text", "align": "left", "baseline": "middle"}, "encoding": {"x": {"datum": -0.6}, "y": {"datum": 0.836}, "text": {"value": "Exposure status"}}},
            {"data": {"values": [{}]}, "mark": {"type": "text", "align": "center", "baseline": "middle"}, "encoding": {"x": {"datum": 64.8}, "y": {"datum": 0.8452}, "text": {"value": "Events"}}},
            {"data": {"values": [{}]}, "mark": {"type": "text", "align": "center", "baseline": "middle"}, "encoding": {"x": {"datum": 86.8}, "y": {"datum": 0.8452}, "text": {"value": "Events"}}},
            {"data": {"values": [{}]}, "mark": {"type": "text", "align": "center", "baseline": "middle"}, "encoding": {"x": {"datum": 64.8}, "y": {"datum": 0.836}, "text": {"value": "observed"}}},
            {"data": {"values": [{}]}, "mark": {"type": "text", "align": "center", "baseline": "middle"}, "encoding": {"x": {"datum": 86.8}, "y": {"datum": 0.836}, "text": {"value": "expected"}}},
            {"data": {"name": "tables"}, "transform": [{"filter": "datum.p === 'C' && datum.row === 1"}], "mark": {"type": "text", "align": "left", "baseline": "middle"}, "encoding": {"x": {"datum": -0.6}, "y": {"datum": 0.8211}, "text": {"field": "status"}}},
            {"data": {"name": "tables"}, "transform": [{"filter": "datum.p === 'C' && datum.row === 1"}], "mark": {"type": "text", "align": "center", "baseline": "middle"}, "encoding": {"x": {"datum": 64.8}, "y": {"datum": 0.8211}, "text": {"field": "observed"}}},
            {"data": {"name": "tables"}, "transform": [{"filter": "datum.p === 'C' && datum.row === 1"}], "mark": {"type": "text", "align": "center", "baseline": "middle"}, "encoding": {"x": {"datum": 86.8}, "y": {"datum": 0.8211}, "text": {"field": "expected", "format": ".1f"}}},
            {"data": {"name": "tables"}, "transform": [{"filter": "datum.p === 'C' && datum.row === 2"}], "mark": {"type": "text", "align": "left", "baseline": "middle"}, "encoding": {"x": {"datum": -0.6}, "y": {"datum": 0.8127}, "text": {"field": "status"}}},
            {"data": {"name": "tables"}, "transform": [{"filter": "datum.p === 'C' && datum.row === 2"}], "mark": {"type": "text", "align": "center", "baseline": "middle"}, "encoding": {"x": {"datum": 64.8}, "y": {"datum": 0.8127}, "text": {"field": "observed"}}},
            {"data": {"name": "tables"}, "transform": [{"filter": "datum.p === 'C' && datum.row === 2"}], "mark": {"type": "text", "align": "center", "baseline": "middle"}, "encoding": {"x": {"datum": 86.8}, "y": {"datum": 0.8127}, "text": {"field": "expected", "format": ".1f"}}},
            {"data": {"values": [{}]}, "mark": {"type": "text", "align": "right", "baseline": "middle", "fontStyle": "italic"}, "encoding": {"x": {"datum": 82}, "y": {"datum": 0.7992}, "text": {"value": "P"}}},
            {"data": {"values": [{}]}, "mark": {"type": "text", "align": "left", "baseline": "middle", "dx": 3}, "encoding": {"x": {"datum": 82}, "y": {"datum": 0.7992}, "text": {"value": "< .001"}}}
          ]
        }
      ]
    }
  ]
}
